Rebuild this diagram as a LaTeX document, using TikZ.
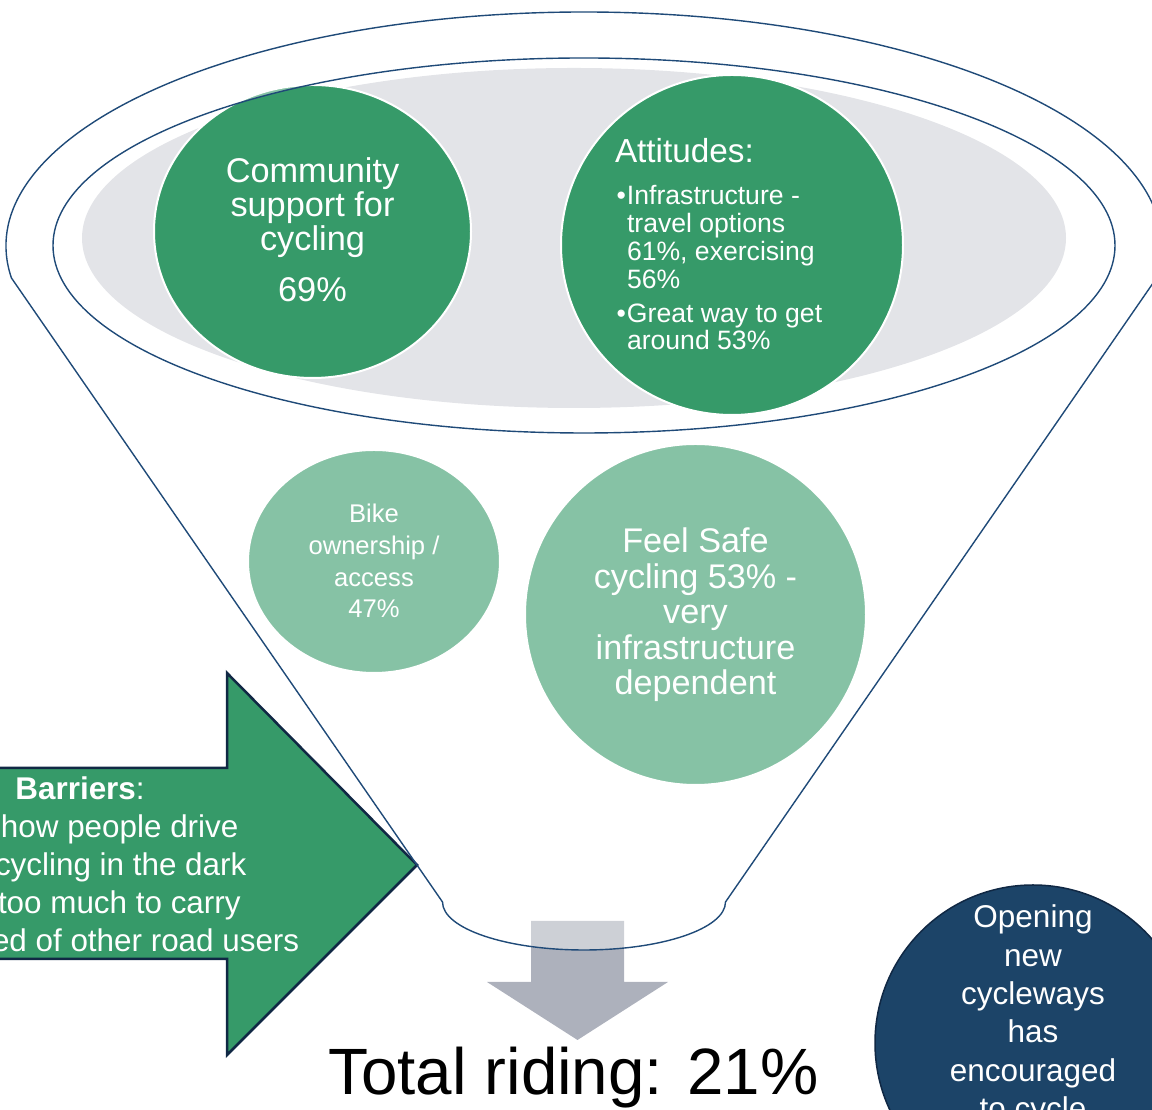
\documentclass[tikz,border=0pt]{standalone}
\usepackage{fontspec}
\setmainfont{Liberation Sans}
\usetikzlibrary{shapes.geometric,calc}

\definecolor{leafgreen}{RGB}{54,154,105}
\definecolor{mistgrey}{RGB}{227,228,232}
\definecolor{rimblue}{RGB}{31,74,120}
\definecolor{arrowgrey}{RGB}{173,177,188}
\definecolor{navyfill}{RGB}{28,68,104}
\definecolor{navyedge}{RGB}{16,40,68}

% font size / line pitch in points
\newcommand\fsz[2]{\fontsize{#1}{#2}\selectfont}
\newcommand\bul{\hspace*{1.5pt}\makebox[10.5pt][l]{\textbullet}}
\newcommand\ind{\hspace*{12pt}}

\begin{document}
\begin{tikzpicture}[x=1pt,y=1pt,
  rim/.style={draw=rimblue, line width=1.4},
  bubble/.style={ellipse, inner sep=0, outer sep=0, fill=leafgreen, draw=white, line width=2},
  bubbletext/.style={text=white, inner sep=0, outer sep=0, align=center, anchor=base}]

\useasboundingbox (0,0) rectangle (1152,1110);
\clip (0,0) rectangle (1152,1110);

% grey disc inside the funnel mouth
\fill[mistgrey] (574,872) ellipse[x radius=492, y radius=170];

% stages
\node[bubble, minimum width=317, minimum height=293] (community) at (312.5,878.5) {};
\node[bubble, minimum width=342, minimum height=340] (attitudes) at (732,865) {};
\node[bubble, minimum width=252, minimum height=223] (bike) at (374,548.5) {};
\node[bubble, minimum width=341, minimum height=341] (safe) at (695.5,495.5) {};

% text blocks are placed by the baseline of their last line
\node[bubbletext, font=\fsz{34.3}{34}] (community-text) at (312.5,808)
  {Community\\support for\\cycling\\[17pt]69\%};
\node[bubbletext, align=left, anchor=base west, font=\fsz{26.6}{27.8}] (attitudes-text) at (615,760)
  {{\fsz{33.3}{33}Attitudes:}\\[14.8pt]
   \bul Infrastructure -\\ \ind travel options\\ \ind 61\%, exercising\\ \ind 56\%\\[6.3pt]
   \bul Great way to get\\ \ind around 53\%};
\node[bubbletext, font=\fsz{25.6}{31.7}] (bike-text) at (374,492)
  {Bike\\ownership /\\access\\47\%};
\node[bubbletext, font=\fsz{34.2}{35.5}] (safe-text) at (695.5,415)
  {Feel Safe\\cycling 53\% -\\very\\infrastructure\\dependent};

% outflow arrow
\fill[arrowgrey] (531,189) -- (624,189) -- (624,128) -- (668,128) -- (577.5,70)
  -- (487,128) -- (531,128) -- cycle;

% funnel geometry
\coordinate (oc) at (584,864);
\coordinate (fl) at ($(oc)+(187.86:578 and 234)$);
\coordinate (br) at (725.5,208);

% translucent funnel body (open mouth left clear)
\fill[white, fill opacity=0.4, even odd rule]
  (fl) arc[start angle=187.86, end angle=-7.86, x radius=578, y radius=234]
  -- (br) arc[start angle=0, end angle=-180, x radius=141.5, y radius=48] -- cycle
  (584,864.5) ellipse[x radius=531, y radius=187.5];

% barriers arrow
\draw[fill=leafgreen, draw=navyedge, line width=2.5, line join=miter]
  (-60,342) -- (227,342) -- (227,437) -- (417,245) -- (227,55) -- (227,151) -- (-60,151) -- cycle;
\node[bubbletext, align=left, anchor=base west, font=\fsz{31.4}{38.2}] (barriers-text) at (-8,158)
  {\hspace*{23.5pt}\textbf{Barriers}:\\
   \hspace*{9pt}how people drive\\
   \hspace*{3pt}cycling in the dark\\
   \hspace*{6pt}too much to carry\\
   ed of other road users};

% funnel outline
\draw[rim]
  (fl) arc[start angle=187.86, end angle=-7.86, x radius=578, y radius=234]
  -- (br) arc[start angle=0, end angle=-180, x radius=141.5, y radius=48] -- cycle;
\draw[rim] (584,864.5) ellipse[x radius=531, y radius=187.5];

% side note
\node[circle, fill=navyfill, draw=navyedge, line width=1.5, minimum size=316, inner sep=0] (opening) at (1033,67) {};
\node[bubbletext, font=\fsz{31.5}{38.3}] (opening-text) at (1033,-9.5)
  {Opening\\new\\cycleways\\has\\encouraged\\to cycle};

% result
\node[anchor=base west, inner sep=0, font=\fsz{65.5}{70}] (total) at (328,15) {Total riding: 21\%};

\end{tikzpicture}
\end{document}
